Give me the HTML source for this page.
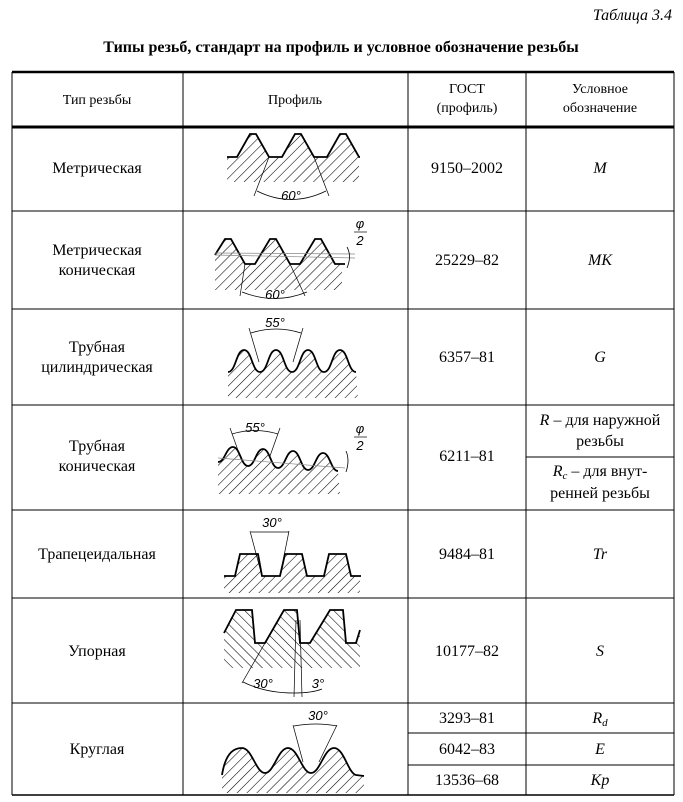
<!DOCTYPE html>
<html><head><meta charset="utf-8"><style>
body{margin:0;background:#fff}
svg{display:block}
text{font-family:"Liberation Serif",serif;font-size:16px;fill:#000}
.s{font-family:"Liberation Sans",sans-serif;font-style:italic;font-size:13px}
.i{font-style:italic}
</style></head><body>
<svg width="683" height="802" viewBox="0 0 683 802" xmlns="http://www.w3.org/2000/svg">
<defs>
<pattern id="h" patternUnits="userSpaceOnUse" width="7" height="7" patternTransform="rotate(45)"><line x1="0" y1="0" x2="0" y2="7" stroke="#000" stroke-width="1.1"/></pattern>
<pattern id="h2" patternUnits="userSpaceOnUse" width="7" height="7" patternTransform="rotate(-45)"><line x1="0" y1="0" x2="0" y2="7" stroke="#000" stroke-width="1.1"/></pattern>
</defs>
<text x="672" y="20" text-anchor="end" class="i">Таблица 3.4</text>
<text x="341" y="52" text-anchor="middle" font-weight="bold" style="font-size:16px">Типы резьб, стандарт на профиль и условное обозначение резьбы</text>
<g stroke="#000" fill="none">
<line x1="12" y1="72" x2="674" y2="72" stroke-width="2.5"/>
<line x1="12" y1="127" x2="674" y2="127" stroke-width="3"/>
<line x1="12" y1="211" x2="674" y2="211" stroke-width="1"/>
<line x1="12" y1="309" x2="674" y2="309" stroke-width="1"/>
<line x1="12" y1="405" x2="674" y2="405" stroke-width="1"/>
<line x1="12" y1="510" x2="674" y2="510" stroke-width="1"/>
<line x1="12" y1="598" x2="674" y2="598" stroke-width="1"/>
<line x1="12" y1="703" x2="674" y2="703" stroke-width="1"/>
<line x1="12" y1="795" x2="674" y2="795" stroke-width="1.5"/>
<line x1="526" y1="457" x2="674" y2="457"/>
<line x1="408" y1="733" x2="674" y2="733"/>
<line x1="408" y1="765" x2="674" y2="765"/>
<line x1="12" y1="72" x2="12" y2="795"/>
<line x1="183" y1="72" x2="183" y2="795"/>
<line x1="408" y1="72" x2="408" y2="795"/>
<line x1="526" y1="72" x2="526" y2="795"/>
<line x1="674" y1="72" x2="674" y2="795"/>
</g>
<text x="97" y="104" text-anchor="middle" style="font-size:14px">Тип резьбы</text>
<text x="295" y="104" text-anchor="middle" style="font-size:14px">Профиль</text>
<text x="467" y="93" text-anchor="middle" style="font-size:14px">ГОСТ</text>
<text x="467" y="112" text-anchor="middle" style="font-size:14px">(профиль)</text>
<text x="600" y="93" text-anchor="middle" style="font-size:14px">Условное</text>
<text x="600" y="112" text-anchor="middle" style="font-size:14px">обозначение</text>

<text x="97" y="173" text-anchor="middle">Метрическая</text>
<text x="467" y="173" text-anchor="middle">9150–2002</text>
<text x="600" y="173" text-anchor="middle" class="i">M</text>
<text x="97" y="255" text-anchor="middle">Метрическая</text>
<text x="97" y="275" text-anchor="middle">коническая</text>
<text x="467" y="265" text-anchor="middle">25229–82</text>
<text x="600" y="265" text-anchor="middle" class="i">MK</text>
<text x="97" y="352" text-anchor="middle">Трубная</text>
<text x="97" y="372" text-anchor="middle">цилиндрическая</text>
<text x="467" y="362" text-anchor="middle">6357–81</text>
<text x="600" y="362" text-anchor="middle" class="i">G</text>
<text x="97" y="451" text-anchor="middle">Трубная</text>
<text x="97" y="471" text-anchor="middle">коническая</text>
<text x="467" y="461" text-anchor="middle">6211–81</text>
<text x="600" y="425" text-anchor="middle"><tspan class="i">R</tspan> – для наружной</text>
<text x="600" y="446" text-anchor="middle">резьбы</text>
<text x="600" y="476" text-anchor="middle"><tspan class="i">R</tspan><tspan class="i" style="font-size:11px" dy="3">c</tspan><tspan dy="-3"> – для внут-</tspan></text>
<text x="600" y="498" text-anchor="middle">ренней резьбы</text>
<text x="97" y="559" text-anchor="middle">Трапецеидальная</text>
<text x="467" y="559" text-anchor="middle">9484–81</text>
<text x="600" y="559" text-anchor="middle" class="i">Tr</text>
<text x="97" y="656" text-anchor="middle">Упорная</text>
<text x="467" y="656" text-anchor="middle">10177–82</text>
<text x="600" y="656" text-anchor="middle" class="i">S</text>
<text x="97" y="754" text-anchor="middle">Круглая</text>
<text x="467" y="723" text-anchor="middle">3293–81</text>
<text x="600" y="723" text-anchor="middle" class="i">R<tspan style="font-size:11px" dy="3">d</tspan></text>
<text x="467" y="754" text-anchor="middle">6042–83</text>
<text x="600" y="754" text-anchor="middle" class="i">E</text>
<text x="467" y="785" text-anchor="middle">13536–68</text>
<text x="600" y="785" text-anchor="middle" class="i">Kp</text>

<path d="M227,157 L237,157 L250,134 L256,134 L269,157 L282,157 L295,134 L301,134 L314,157 L327,157 L340,134 L346,134 L359,157 L359,182 L227,182 Z" fill="url(#h)"/>
<path d="M227,157 L237,157 L250,134 L256,134 L269,157 L282,157 L295,134 L301,134 L314,157 L327,157 L340,134 L346,134 L359,157 L360,157" fill="none" stroke="#000" stroke-width="1.8"/>
<path d="M269,157 L254,196 M314,157 L329,196" stroke="#000" stroke-width="0.7"/>
<path d="M257,191 Q291,208 326,191" fill="none" stroke="#000" stroke-width="0.8"/>
<text x="291" y="200" text-anchor="middle" class="s">60°</text>

<path d="M215,255 L225,239 L231,239 L245,264 L255,264 L270,239 L276,239 L290,264 L300,264 L315,239 L321,239 L335,264 L342,264 L342,290 L215,290 Z" fill="url(#h)"/>
<path d="M215,255 L225,239 L231,239 L245,264 L255,264 L270,239 L276,239 L290,264 L300,264 L315,239 L321,239 L335,264 L345,264" fill="none" stroke="#000" stroke-width="1.8"/>
<path d="M215,255 L355,258 M215,253 L355,254" stroke="#888" stroke-width="0.7"/>
<path d="M245,264 L240,296 M290,264 L305,296" stroke="#000" stroke-width="0.7"/>
<path d="M242,292 Q275,305 307,292" fill="none" stroke="#000" stroke-width="0.8"/>
<text x="275" y="299" text-anchor="middle" class="s">60°</text>
<path d="M347,247 Q352,256 347,268" fill="none" stroke="#000" stroke-width="0.8"/>
<text x="360" y="228" text-anchor="middle" class="s">φ</text>
<line x1="354" y1="232" x2="367" y2="232" stroke="#000" stroke-width="0.7"/>
<text x="360" y="245" text-anchor="middle" class="s">2</text>

<path d="M228,372 C236,372 236,350 244,350 C252,350 252,372 260,372 C268,372 268,350 276,350 C284,350 284,372 292,372 C300,372 300,350 308,350 C316,350 316,372 324,372 C332,372 332,350 340,350 C348,350 348,372 356,372 L358,398 L228,398 Z" fill="url(#h)"/>
<path d="M228,372 C236,372 236,350 244,350 C252,350 252,372 260,372 C268,372 268,350 276,350 C284,350 284,372 292,372 C300,372 300,350 308,350 C316,350 316,372 324,372 C332,372 332,350 340,350 C348,350 348,372 356,372" fill="none" stroke="#000" stroke-width="1.8"/>
<path d="M259,362 L249,328 M293,362 L303,328" stroke="#000" stroke-width="0.7"/>
<path d="M251,333 Q276,325 301,333" fill="none" stroke="#000" stroke-width="0.8"/>
<text x="275" y="327" text-anchor="middle" class="s">55°</text>

<path d="M218,462 C225,462 226,447 233,447 C240,447 241,466 248,466 C255,466 256,449 263,449 C270,449 271,468 278,468 C285,468 286,451 293,451 C300,451 301,470 308,470 C315,470 316,453 323,453 C330,453 331,471 338,471 L340,494 L218,494 Z" fill="url(#h)"/>
<path d="M218,462 C225,462 226,447 233,447 C240,447 241,466 248,466 C255,466 256,449 263,449 C270,449 271,468 278,468 C285,468 286,451 293,451 C300,451 301,470 308,470 C315,470 316,453 323,453 C330,453 331,471 338,471" fill="none" stroke="#000" stroke-width="1.8"/>
<path d="M218,458 L345,468" stroke="#888" stroke-width="0.7"/>
<path d="M240,456 L230,428 M270,456 L280,428" stroke="#000" stroke-width="0.7"/>
<path d="M232,434 Q255,427 278,434" fill="none" stroke="#000" stroke-width="0.8"/>
<text x="255" y="432" text-anchor="middle" class="s">55°</text>
<path d="M346,451 Q350,460 346,472" fill="none" stroke="#000" stroke-width="0.8"/>
<text x="360" y="433" text-anchor="middle" class="s">φ</text>
<line x1="354" y1="437" x2="367" y2="437" stroke="#000" stroke-width="0.7"/>
<text x="360" y="450" text-anchor="middle" class="s">2</text>

<path d="M224,576 L235,576 L240,554 L258,554 L262,576 L280,576 L285,554 L302,554 L307,576 L324,576 L329,554 L346,554 L351,576 L360,576 L360,593 L224,593 Z" fill="url(#h)"/>
<path d="M224,576 L235,576 L240,554 L258,554 L262,576 L280,576 L285,554 L302,554 L307,576 L324,576 L329,554 L346,554 L351,576 L361,576" fill="none" stroke="#000" stroke-width="1.8"/>
<path d="M262,576 L250,531 M280,576 L289,531" stroke="#000" stroke-width="0.7"/>
<path d="M251,532 L289,532" stroke="#000" stroke-width="0.8"/>
<text x="272" y="527" text-anchor="middle" class="s">30°</text>

<path d="M224,633 L236,610 L252,610 L255,643 L265,643 L284,610 L297,610 L300,643 L310,643 L330,610 L343,610 L346,643 L356,643 L360,630 L360,668 L224,668 Z" fill="url(#h2)"/>
<path d="M224,633 L236,610 L252,610 L255,643 L265,643 L284,610 L297,610 L300,643 L310,643 L330,610 L343,610 L346,643 L356,643 L360,630" fill="none" stroke="#000" stroke-width="1.8"/>
<path d="M265,643 L242,683 M296,620 L294,697 M300,620 L302,697" stroke="#000" stroke-width="0.7"/>
<path d="M243,682 Q265,693 294,693 Q312,693 322,689" fill="none" stroke="#000" stroke-width="0.8"/>
<text x="263" y="688" text-anchor="middle" class="s">30°</text>
<text x="318" y="688" text-anchor="middle" class="s">3°</text>

<path d="M222,775 C226,750 236,748 242,748 C252,748 256,773 265,773 C274,773 278,748 288,748 C298,748 302,773 311,773 C320,773 324,748 334,748 C344,748 348,773 356,775 L364,775 L364,793 L222,793 Z" fill="url(#h)"/>
<path d="M222,775 C226,750 236,748 242,748 C252,748 256,773 265,773 C274,773 278,748 288,748 C298,748 302,773 311,773 C320,773 324,748 334,748 C344,748 348,773 356,775 L364,776" fill="none" stroke="#000" stroke-width="1.8"/>
<path d="M303,762 L293,725 M319,762 L337,725" stroke="#000" stroke-width="0.7"/>
<path d="M294,726 Q316,722 337,726" fill="none" stroke="#000" stroke-width="0.8"/>
<text x="318" y="720" text-anchor="middle" class="s">30°</text>
</svg>
</body></html>
